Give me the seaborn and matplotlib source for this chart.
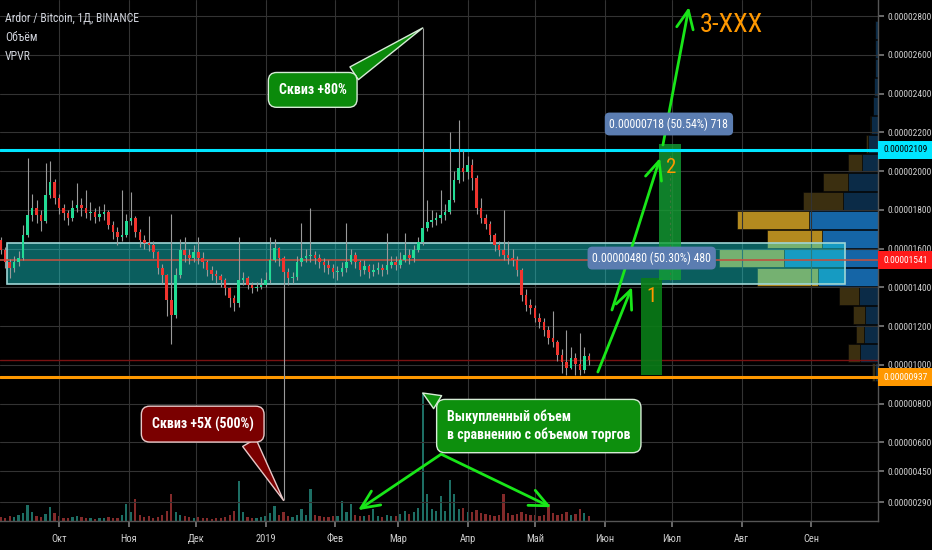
import numpy as np
import pandas as pd
import matplotlib
matplotlib.use("Agg")
import matplotlib.pyplot as plt
import matplotlib.dates as mdates
import matplotlib.transforms as mtransforms
from matplotlib import font_manager
from matplotlib.patches import Rectangle
import seaborn as sns

first_candle = "2018-09-03"
candle_days = 2
first_open = 1600
closes = [
    1644, 1593, 1530, 1500, 1530, 1550, 1670, 1775, 1810, 1775,
    1740, 1877, 1944, 1860, 1810, 1784, 1758, 1810, 1825, 1810,
    1784, 1790, 1763, 1780, 1790, 1722, 1686, 1660, 1670, 1740,
    1758, 1686, 1644, 1629, 1618, 1582, 1500, 1464, 1335, 1257,
    1464, 1593, 1567, 1550, 1582, 1550, 1530, 1489, 1469, 1459,
    1438, 1397, 1345, 1319, 1438, 1448, 1412, 1397, 1402, 1412,
    1438, 1541, 1603, 1550, 1479, 1448, 1453, 1530, 1550, 1562,
    1567, 1550, 1530, 1515, 1500, 1479, 1479, 1500, 1530, 1567,
    1530, 1489, 1510, 1479, 1489, 1500, 1489, 1515, 1530, 1515,
    1541, 1567, 1550, 1593, 1634, 1706, 1738, 1748, 1758, 1775,
    1790, 1851, 1954, 2016, 1995, 2032, 1964, 1810, 1758, 1727,
    1670, 1618, 1593, 1567, 1550, 1541, 1489, 1360, 1309, 1293,
    1242, 1221, 1180, 1138, 1118, 1051, 1015, 984, 1035, 1004,
    973, 1045, 1025,
]
highs = [
    1690, 1660, 1610, 1545, 1560, 1590, 1720, 2070, 1880, 1850,
    1800, 2040, 2050, 1960, 1880, 1830, 1800, 1850, 1940, 1860,
    1900, 1840, 1810, 1820, 1830, 1800, 1740, 1710, 1900, 1780,
    1890, 1770, 1700, 1670, 1770, 1640, 1590, 1520, 1470, 1780,
    1500, 1650, 1660, 1600, 1620, 1660, 1580, 1540, 1510, 1490,
    1470, 1450, 1400, 1360, 1660, 1480, 1460, 1430, 1430, 1450,
    1480, 1660, 1650, 1610, 1560, 1500, 1480, 1560, 1730, 1600,
    1810, 1590, 1570, 1550, 1540, 1520, 1510, 1530, 1730, 1600,
    1580, 1540, 1540, 1520, 1520, 1530, 1520, 1680, 1560, 1560,
    1580, 1680, 1600, 1620, 1660, 2739, 1850, 1800, 1790, 1900,
    1830, 2200, 2000, 2264, 2110, 2080, 2060, 1980, 1860, 1780,
    1740, 1680, 1640, 1800, 1640, 1600, 1560, 1500, 1390, 1340,
    1310, 1270, 1240, 1200, 1280, 1130, 1080, 1180, 1090, 1060,
    1165, 1090, 1060,
]
lows = [
    1580, 1570, 1500, 1450, 1480, 1510, 1540, 1660, 1740, 1730,
    1690, 1730, 1860, 1830, 1780, 1750, 1720, 1740, 1790, 1770,
    1760, 1750, 1730, 1740, 1750, 1700, 1650, 1620, 1640, 1660,
    1720, 1660, 1610, 1600, 1590, 1550, 1470, 1420, 1250, 1110,
    1240, 1450, 1530, 1520, 1530, 1520, 1500, 1460, 1440, 1420,
    1400, 1360, 1300, 1280, 1300, 1410, 1390, 1370, 1380, 1390,
    1400, 1420, 1530, 1510, 300, 1410, 1420, 1440, 1510, 1530,
    1530, 1520, 1500, 1480, 1470, 1450, 1440, 1460, 1480, 1520,
    1500, 1460, 1470, 1450, 1460, 1470, 1460, 1470, 1500, 1490,
    1500, 1530, 1520, 1530, 1580, 1620, 1690, 1710, 1720, 1730,
    1750, 1780, 1840, 1940, 1950, 1960, 1900, 1780, 1730, 1700,
    1640, 1590, 1560, 1540, 1520, 1510, 1460, 1330, 1280, 1260,
    1220, 1190, 1150, 1110, 1090, 1020, 960, 950, 980, 950,
    945, 960, 1000,
]
# volume per candle, millions ARDR (rough)
volumes = [
    0.3, 0.4, 0.3, 0.5, 0.4, 0.6, 0.8, 1.6, 0.9, 0.5,
    0.4, 0.7, 1.4, 0.8, 0.5, 0.3, 0.3, 0.4, 0.5, 0.4,
    0.3, 0.3, 0.2, 0.3, 0.3, 0.4, 0.3, 0.3, 0.6, 1.7,
    0.9, 2.2, 0.6, 0.4, 0.5, 0.3, 0.4, 0.6, 1.0, 2.7,
    0.9, 0.6, 0.5, 0.4, 0.3, 0.4, 0.3, 0.3, 0.2, 0.3,
    0.3, 0.4, 0.6, 1.0, 4.0, 0.9, 0.4, 0.3, 0.3, 0.4,
    0.5, 0.8, 1.5, 0.6, 0.9, 0.5, 0.4, 0.6, 1.2, 0.6,
    3.2, 0.6, 0.5, 0.4, 0.4, 0.5, 0.5, 2.0, 0.9, 1.7,
    0.6, 0.5, 0.5, 0.6, 1.2, 0.5, 0.4, 0.6, 0.5, 0.5,
    0.7, 1.0, 0.7, 0.9, 1.3, 12.8, 2.7, 1.2, 1.0, 2.5,
    1.0, 4.1, 2.7, 1.2, 1.3, 0.9, 0.9, 1.1, 0.8, 0.7,
    0.6, 0.5, 0.6, 2.7, 0.8, 0.6, 0.7, 0.9, 0.7, 0.6,
    0.6, 0.5, 0.6, 1.7, 0.8, 0.6, 0.7, 0.9, 0.6, 0.7,
    1.2, 0.8, 0.5,
]

# visible range volume profile, rows from bottom to top
vpvr_row_low = [915, 1013, 1111, 1209, 1307, 1405, 1503, 1601, 1699, 1797,
                1895, 1993, 2091, 2189, 2287, 2385, 2483, 2581, 2679]
vpvr_row_size = 98
vpvr_up = [0.3, 1.8, 1.4, 1.3, 1.9, 6.0, 9.4, 5.6, 6.9, 3.5,
           3.0, 1.6, 1.0, 0.7, 0.5, 0.4, 0.3, 0.3, 0.3]
vpvr_down = [0.3, 1.2, 0.8, 1.2, 2.0, 6.1, 6.5, 5.5, 7.2, 4.0,
             2.5, 1.4, 0.2, 0.1, 0.0, 0.0, 0.0, 0.0, 0.0]
vpvr_value_area = [False] * 5 + [True] * 4 + [False] * 10

month_ticks = ["2018-10-01", "2018-11-01", "2018-12-01", "2019-01-01", "2019-02-01", "2019-03-01",
               "2019-04-01", "2019-05-01", "2019-06-01", "2019-07-01", "2019-08-01", "2019-09-01"]
month_labels = ["Окт", "Ноя", "Дек", "2019", "Фев", "Мар", "Апр", "Май", "Июн", "Июл", "Авг", "Сен"]
price_ticks = [290, 450, 600, 800, 1000, 1200, 1400, 1600, 1800, 2000, 2200, 2400, 2600, 2800]

level_resist = 2109
level_mid = 1541
level_support = 937
range_low, range_high = 1417, 1629


def d(s):
    return mdates.date2num(pd.Timestamp(s))


def sat(v):
    return f"{v / 1e8:.8f}"


n = len(closes)
dates = pd.date_range(first_candle, periods=n, freq=f"{candle_days}D")
x = mdates.date2num(dates)
opens = [first_open] + closes[:-1]
up = np.array(closes) >= np.array(opens)
df = pd.DataFrame({"x": x, "vol": volumes, "side": np.where(up, "up", "down")})

sns.set_theme(style="dark", rc={
    "figure.facecolor": "black", "axes.facecolor": "black",
    "savefig.facecolor": "black", "grid.color": "#333333",
    "text.color": "#d1d4dc", "axes.edgecolor": "#555555",
})
available = {f.name for f in font_manager.fontManager.ttflist}
narrow = next((f for f in ["Liberation Sans Narrow", "Roboto Condensed", "Liberation Sans"]
               if f in available), "DejaVu Sans")
plt.rcParams["font.family"] = [narrow, "DejaVu Sans"]

fig = plt.figure(figsize=(9.32, 5.5), dpi=100)
rect = [0, 29 / 550, 878 / 932, 521 / 550]
ax = fig.add_axes(rect)
vax = fig.add_axes(rect, sharex=ax)
vp = fig.add_axes(rect, sharey=ax)
vp.set_zorder(0)
vax.set_zorder(1)
ax.set_zorder(2)
ax.patch.set_visible(False)
vax.patch.set_visible(False)

# volume profile, anchored on the right edge
mid = np.array(vpvr_row_low) + vpvr_row_size / 2
va = np.array(vpvr_value_area)
vp.barh(mid, vpvr_up, height=vpvr_row_size * 0.94, left=0,
        color=np.where(va, "#1565a6", "#0b2b47"), edgecolor="#050505", linewidth=0.4)
vp.barh(mid, vpvr_down, height=vpvr_row_size * 0.94, left=vpvr_up,
        color=np.where(va, "#b38a1f", "#3b2f10"), edgecolor="#050505", linewidth=0.4)
vp.set_xlim(87.8, 0)
vp.axis("off")

# volume bars
sns.histplot(data=df, x="x", weights="vol", hue="side", multiple="layer",
             palette={"up": "#1d6e64", "down": "#832a2a"}, binwidth=candle_days,
             binrange=(x[0] - 1, x[-1] + 1), shrink=0.5, alpha=1, linewidth=0,
             legend=False, ax=vax)
vax.set_ylim(0, 52.1)
vax.axis("off")

# candles
ax.vlines(x, lows, highs, color="#9a9a9a", linewidth=0.8, zorder=5)
body_lo = np.minimum(opens, closes)
body_h = np.maximum(np.abs(np.array(closes) - np.array(opens)), 4)
ax.bar(x, body_h, bottom=body_lo, width=1.15, color=np.where(up, "#22dc95", "#f0342e"),
       linewidth=0, zorder=6)

# range box and levels
ax.add_patch(Rectangle((d("2018-09-07 19:00"), range_low), d("2019-09-16") - d("2018-09-07 19:00"),
                       range_high - range_low, facecolor=(0.1, 0.93, 0.93, 0.4),
                       edgecolor="#9ed6d6", linewidth=1.2, zorder=2))
ax.axhline(level_mid, color="#c05040", linewidth=1.2, zorder=3)
ax.axhline(closes[-1], color="#7a1212", linewidth=1, zorder=2)
ax.axhline(level_resist, color="#00e5ff", linewidth=2.2, zorder=4)
ax.axhline(level_support, color="#ff9800", linewidth=2.2, zorder=4)

yx = mtransforms.blended_transform_factory(ax.transAxes, ax.transData)
for lvl, fc, tc in [(level_resist, "#00e5ff", "black"), (level_mid, "#ff1a1a", "white"),
                    (level_support, "#ff9800", "white")]:
    ax.text(1 + 5 / 878, lvl, sat(lvl), transform=yx, ha="left", va="center", fontsize=6.8,
            color=tc, clip_on=False, zorder=10,
            bbox=dict(boxstyle="square,pad=0.5", fc=fc, ec="none"))

# measured moves
ax.add_patch(Rectangle((d("2019-06-17 05:00"), 947), d("2019-06-26 14:00") - d("2019-06-17 05:00"),
                       1448 - 947, facecolor="#0a7d18", edgecolor="none", alpha=0.9, zorder=3.5))
ax.add_patch(Rectangle((d("2019-06-25 07:00"), 1438), d("2019-07-05 02:00") - d("2019-06-25 07:00"),
                       2140 - 1438, facecolor="#14a035", edgecolor="none", alpha=0.8, zorder=3.5))
ax.vlines(d("2019-06-30 04:00"), 1438, 2100, colors="#3d7a3d", linestyles=(0, (2, 3)),
          linewidth=0.8, zorder=3.6)
lbl = dict(ha="center", va="center", fontsize=8.5, color="white", zorder=9,
           bbox=dict(boxstyle="round,pad=0.4", fc="#5b7db1", ec="none"))
ax.text(d("2019-06-29 16:00"), 2243, "0.00000718 (50.54%) 718", **lbl)
ax.text(d("2019-06-22"), 1551, "0.00000480 (50.30%) 480", **lbl)
ax.text(d("2019-06-22"), 1355, "1", color="#ff9800", fontsize=15, ha="center", va="center", zorder=9)
ax.text(d("2019-06-30 14:00"), 2016, "2", color="#ff9800", fontsize=15, ha="center", va="center", zorder=9)
ax.text(d("2019-07-13 12:00"), 2754, "3-XXX", color="#ff9800", fontsize=19, ha="left", va="center", zorder=9)

arrow = dict(arrowstyle="->,head_length=1.1,head_width=0.5", color="#19e619", lw=2,
             shrinkA=0, shrinkB=0)
for tail, tip in [(("2019-05-29", 963), ("2019-06-13 05:00", 1402)),
                  (("2019-06-04 07:00", 1283), ("2019-06-25 17:00", 2068)),
                  (("2019-06-27", 2135), ("2019-07-08 14:00", 2847)),
                  (("2019-03-20 05:00", 539), ("2019-02-11 05:00", 250)),
                  (("2019-03-20 05:00", 539), ("2019-05-08 05:00", 265))]:
    ax.annotate("", xy=(d(tip[0]), tip[1]), xytext=(d(tail[0]), tail[1]), arrowprops=arrow, zorder=8)

# callouts
spike = int(np.argmax(highs))
dump = int(np.argmin(lows))
vspike = int(np.argmax(volumes))
ax.annotate("Сквиз +80%", xy=(x[spike], highs[spike]), xytext=(d("2019-01-22"), 2419),
            ha="center", va="center", color="white", fontsize=10, fontweight="bold", zorder=9,
            bbox=dict(boxstyle="round,pad=0.75,rounding_size=0.6", fc="#0b8a0b", ec="#d6ecd6", lw=1),
            arrowprops=dict(arrowstyle="wedge,tail_width=1.1", fc="#0b8a0b", ec="#d6ecd6", lw=1,
                            relpos=(0.85, 0.85), shrinkA=0, shrinkB=0))
ax.annotate("Сквиз +5X (500%)", xy=(x[dump], lows[dump]), xytext=(d("2018-12-04"), 694),
            ha="center", va="center", color="white", fontsize=10, fontweight="bold", zorder=9,
            bbox=dict(boxstyle="round,pad=0.75,rounding_size=0.6", fc="#7a0000", ec="#e8c8c8", lw=1),
            arrowprops=dict(arrowstyle="wedge,tail_width=1.1", fc="#7a0000", ec="#e8c8c8", lw=1,
                            relpos=(0.88, 0.15), shrinkA=0, shrinkB=0))
ax.annotate("Выкупленный объем\nв сравнению с объемом торгов", xy=(x[vspike], volumes[vspike]),
            xycoords=vax.transData, xytext=(d("2019-03-22 20:00"), 684), textcoords=ax.transData,
            ha="left", va="center", color="white", fontsize=10, fontweight="bold", zorder=9,
            linespacing=1.3,
            bbox=dict(boxstyle="round,pad=0.75,rounding_size=0.6", fc="#0d8f0d", ec="#d6ecd6", lw=1),
            arrowprops=dict(arrowstyle="wedge,tail_width=1.1", fc="#0d8f0d", ec="#d6ecd6", lw=1,
                            relpos=(0.06, 0.85), shrinkA=0, shrinkB=0))

# header
for i, t in enumerate(["Ardor / Bitcoin, 1Д, BINANCE", "Объём", "VPVR"]):
    ax.text(5 / 878, 1 - (18 + 19.5 * i) / 521, t, transform=ax.transAxes, fontsize=8.5,
            color="#d1d4dc", ha="left", va="center", zorder=9)

# axes
ax.set_xticks([d(m) for m in month_ticks])
ax.set_xticklabels(month_labels)
ax.set_yticks(price_ticks)
ax.set_yticklabels([sat(p) for p in price_ticks])
ax.yaxis.tick_right()
ax.tick_params(axis="x", bottom=True, length=4, color="#777777", labelcolor="#cfcfcf",
               labelsize=7.5, pad=5, direction="out")
ax.tick_params(axis="y", right=True, left=False, length=4, color="#777777", labelcolor="#cfcfcf",
               labelsize=6.8, pad=3, direction="out")
ax.grid(True, color="#333333", linewidth=0.8)
ax.set_axisbelow(True)
for side in ["top", "left"]:
    ax.spines[side].set_visible(False)
for side in ["right", "bottom"]:
    ax.spines[side].set_color("#555555")
    ax.spines[side].set_linewidth(1)
ax.set_xlabel("")
ax.set_ylabel("")
ax.set_xlim(d("2018-09-04 17:00"), d("2019-09-30 19:00"))
ax.set_ylim(194, 2883)

fig.savefig("out.png", dpi=100, facecolor="black")
